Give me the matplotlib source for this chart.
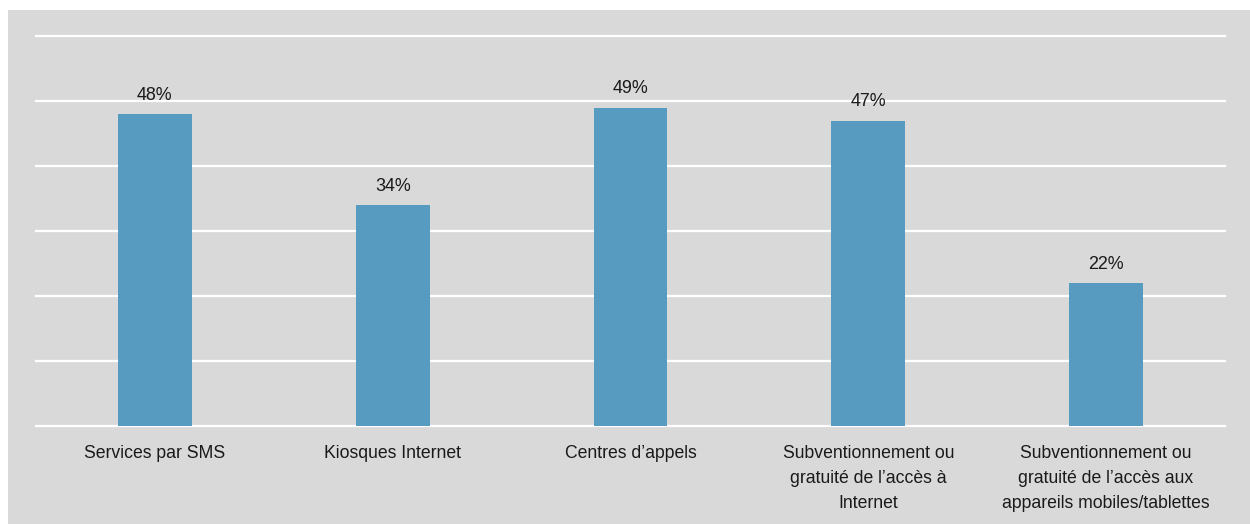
import matplotlib
matplotlib.use("Agg")
import matplotlib.pyplot as plt
from matplotlib.patches import Rectangle

categories = [
    "Services par SMS",
    "Kiosques Internet",
    "Centres d\u2019appels",
    "Subventionnement ou\ngratuit\u00e9 de l\u2019acc\u00e8s \u00e0\nInternet",
    "Subventionnement ou\ngratuit\u00e9 de l\u2019acc\u00e8s aux\nappareils mobiles/tablettes",
]
values = [48, 34, 49, 47, 22]
gridlines = [0, 10, 20, 30, 40, 50, 60]

plt.rcParams["font.family"] = ["Liberation Sans", "DejaVu Sans"]

W, H = 1250, 524
fig = plt.figure(figsize=(W / 100, H / 100), dpi=100)
fig.patch.set_facecolor("white")
bg = Rectangle((8 / W, 0), 1 - 8 / W, 1 - 10 / H, transform=fig.transFigure,
               facecolor="#d9d9d9", edgecolor="none", zorder=-10)
fig.patches.append(bg)

ax = fig.add_axes([36 / W, (H - 426) / H, (1225 - 36) / W, (426 - 36) / H])
ax.set_zorder(5)
ax.set_facecolor("none")
x = list(range(len(categories)))
ax.set_xlim(-0.5, len(categories) - 0.5)
ax.set_ylim(0, 60)

for g in gridlines:
    ax.axhline(g, color="white", lw=1.6, zorder=1, clip_on=False)

ax.bar(x, values, width=0.31, color="#579cc0", zorder=2)
for xi, v in zip(x, values):
    ax.annotate(f"{v}%", (xi, v), xytext=(0, 7.5), textcoords="offset points",
                ha="center", va="bottom", fontsize=12.9, color="#1a1a1a")

ax.set_xticks(x)
ax.set_xticklabels(categories, fontsize=12.7, color="#1a1a1a", linespacing=1.6)
ax.tick_params(axis="x", length=0, pad=14)
ax.set_yticks([])
for s in ax.spines.values():
    s.set_visible(False)

fig.savefig("out.png", dpi=100)
